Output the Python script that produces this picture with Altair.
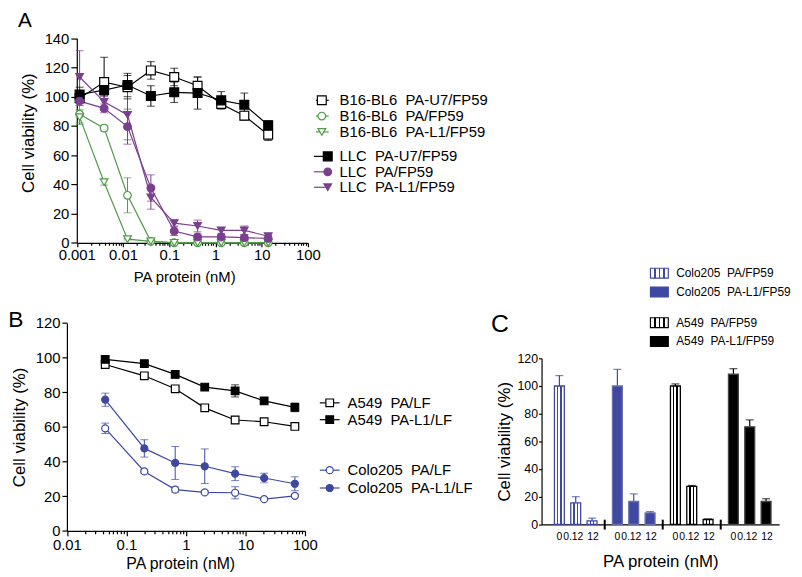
import altair as alt
import pandas as pd

W, H = 794, 566
M = 8


def cx(p):
    return p - M


def cy(p):
    return p - M


FONT = "Liberation Sans"
NARROW = "Liberation Sans Narrow, Liberation Sans"
INK = "#000000"
GREEN = "#4f9a48"
PURPLE = "#7b3f8f"
BLUE = "#3d48a2"
WHITE = "#ffffff"
SP = "\u00a0\u00a0"

# ---------------- Panel A data ----------------
A_DOSE = [0.00115, 0.0039, 0.0125, 0.04, 0.128, 0.41, 1.33, 4.2, 13.8]
A_NAMES = ["B16-BL6" + SP + "PA-U7/FP59", "B16-BL6" + SP + "PA/FP59", "B16-BL6" + SP + "PA-L1/FP59",
           "LLC" + SP + "PA-U7/FP59", "LLC" + SP + "PA/FP59", "LLC" + SP + "PA-L1/FP59"]
A_B16_U7 = [99, 110, 106.5, 118, 113.5, 107.5, 95, 87, 74]
A_B16_U7_ERR = [3, 17, 8, 6, 6, 6, 3, 3, 4]
A_B16_PA = [88, 78.5, 32.5, 1, 0, 0, 0, 0, 0]
A_B16_PA_ERR = [6, 2, 12, 1, 0, 0, 0, 0, 0]
A_B16_L1 = [86, 41.5, 2.5, 1, 0, 0, 0, 0, 0]
A_B16_L1_ERR = [5, 2, 0.5, 0.5, 0, 0, 0, 0, 0]
A_LLC_U7 = [101.5, 104.5, 108, 100.5, 103, 102.5, 97.5, 94.5, 80.5]
A_LLC_U7_ERR = [5, 4, 8, 7, 7, 11, 6, 8, 3]
A_LLC_PA = [97, 92, 79.5, 37.5, 8, 4, 4, 3.5, 3]
A_LLC_PA_ERR = [3, 3, 12, 9, 3, 2, 1.5, 2, 2]
A_LLC_L1 = [113.5, 96.5, 87.5, 31, 13.5, 11.5, 8.5, 8.5, 4.5]
A_LLC_L1_ERR = [18, 4, 17, 8, 2, 4, 2, 3, 2]
A_XTICKS = [0.001, 0.01, 0.1, 1, 10, 100]
A_YTICKS = [0, 20, 40, 60, 80, 100, 120, 140]

# ---------------- Panel B data ----------------
B_DOSE = [0.044, 0.2, 0.66, 2.07, 6.7, 20.6, 67.6]
B_NAMES = ["A549" + SP + "PA/LF", "A549" + SP + "PA-L1/LF", "Colo205" + SP + "PA/LF", "Colo205" + SP + "PA-L1/LF"]
B_A549_PA = [96, 89.5, 82, 71, 64, 63, 60.3]
B_A549_PA_ERR = [1, 1, 1, 1, 2, 1, 1]
B_A549_L1 = [99, 96.5, 90.3, 83, 80.8, 75, 71.3]
B_A549_L1_ERR = [1.5, 1.5, 2, 1, 3.5, 1.5, 2.5]
B_COLO_PA = [59.2, 34.3, 23.8, 22.2, 22, 18.3, 20.2]
B_COLO_PA_ERR = [3, 1, 1.5, 1, 3.5, 0.5, 1]
B_COLO_L1 = [75.7, 47.6, 39.2, 37.3, 33, 30.5, 27.2]
B_COLO_L1_ERR = [3.8, 5, 9.5, 10, 4, 2.8, 4]
B_XTICKS = [0.01, 0.1, 1, 10, 100]
B_YTICKS = [0, 20, 40, 60, 80, 100, 120]

# ---------------- Panel C data ----------------
C_DOSES = ["0", "0.12", "12"]
C_NAMES = ["Colo205" + SP + "PA/FP59", "Colo205" + SP + "PA-L1/FP59", "A549" + SP + "PA/FP59", "A549" + SP + "PA-L1/FP59"]
C_COLO_PA = [100, 15.5, 2.5]
C_COLO_PA_ERR = [7.5, 4.5, 2]
C_COLO_L1 = [100, 16.5, 8.2]
C_COLO_L1_ERR = [12, 5.5, 1]
C_A549_PA = [100, 27.5, 3.5]
C_A549_PA_ERR = [1.5, 0.6, 0.4]
C_A549_L1 = [108.5, 70.5, 16.5]
C_A549_L1_ERR = [4, 5, 2]
C_YTICKS = [0, 20, 40, 60, 80, 100, 120]

# ---------------- styles ----------------
A_STYLE = [(INK, WHITE, "square", 80), (GREEN, WHITE, "circle", 60), (GREEN, WHITE, "triangle-down", 60),
           (INK, INK, "square", 80), (PURPLE, PURPLE, "circle", 60), (PURPLE, PURPLE, "triangle-down", 60)]
B_STYLE = [(INK, WHITE, "square", 60), (INK, INK, "square", 60), (BLUE, WHITE, "circle", 50), (BLUE, BLUE, "circle", 50)]


def series_frame(doses, names, values, errs, styles):
    rows = []
    for name, vals, es, (col, fil, shp, sz) in zip(names, values, errs, styles):
        for d, v, e in zip(doses, vals, es):
            rows.append(dict(s=name, x=d, v=v, e=e, lo=v - e, hi=v + e, col=col, fil=fil, shp=shp, sz=sz))
    return pd.DataFrame(rows)


dfA = series_frame(A_DOSE, A_NAMES,
                   [A_B16_U7, A_B16_PA, A_B16_L1, A_LLC_U7, A_LLC_PA, A_LLC_L1],
                   [A_B16_U7_ERR, A_B16_PA_ERR, A_B16_L1_ERR, A_LLC_U7_ERR, A_LLC_PA_ERR, A_LLC_L1_ERR],
                   A_STYLE)
dfB = series_frame(B_DOSE, B_NAMES,
                   [B_A549_PA, B_A549_L1, B_COLO_PA, B_COLO_L1],
                   [B_A549_PA_ERR, B_A549_L1_ERR, B_COLO_PA_ERR, B_COLO_L1_ERR],
                   B_STYLE)


def minor_values(e0, e1):
    return [k * 10.0 ** e for e in range(e0, e1) for k in range(2, 10)]


AXIS_COMMON = dict(domainColor=INK, tickColor=INK, labelColor=INK, titleColor=INK,
                   labelFont=FONT, titleFont=FONT, titleFontWeight="normal",
                   domainWidth=1.2, tickWidth=1.2, grid=False)


def line_panel(df, xs, ys, x_axis, y_axis, minor_axis):
    err = df[df.e > 0]
    col = alt.Color("col:N", scale=None)

    def X():
        return alt.X("x:Q", scale=xs, axis=None)

    return [
        alt.Chart(df).mark_point(opacity=0).encode(
            x=alt.X("x:Q", scale=xs, axis=x_axis), y=alt.Y("v:Q", scale=ys, axis=None)),
        alt.Chart(df).mark_point(opacity=0).encode(
            x=X(), y=alt.Y("v:Q", scale=ys, axis=y_axis)),
        alt.Chart(df).mark_point(opacity=0).encode(
            x=alt.X("x:Q", scale=xs, axis=minor_axis), y=alt.Y("v:Q", scale=ys, axis=None)),
        alt.Chart(err).mark_rule(strokeWidth=1).encode(
            x=X(), y=alt.Y("lo:Q", scale=ys, axis=None), y2="hi:Q", color=col),
        alt.Chart(err).mark_tick(orient="horizontal", size=8, thickness=1).encode(
            x=X(), y=alt.Y("lo:Q", scale=ys, axis=None), color=col),
        alt.Chart(err).mark_tick(orient="horizontal", size=8, thickness=1).encode(
            x=X(), y=alt.Y("hi:Q", scale=ys, axis=None), color=col),
        alt.Chart(df).mark_line(strokeWidth=1.2).encode(
            x=X(), y=alt.Y("v:Q", scale=ys, axis=None), detail="s:N", color=col),
        alt.Chart(df).mark_point(filled=True, opacity=1, strokeWidth=1.2).encode(
            x=X(), y=alt.Y("v:Q", scale=ys, axis=None),
            shape=alt.Shape("shp:N", scale=None), fill=alt.Fill("fil:N", scale=None),
            stroke=alt.Stroke("col:N", scale=None), size=alt.Size("sz:Q", scale=None)),
    ]


# ---------------- Panel A ----------------
A_X = alt.Scale(type="log", domain=[0.001, 100], range=[cx(77.5), cx(311)], nice=False, padding=0)
A_Y = alt.Scale(domain=[0, 140], range=[cy(242.3), cy(35.7)], nice=False, zero=False, padding=0)
panelA = line_panel(
    dfA, A_X, A_Y,
    alt.Axis(orient="bottom", offset=cy(242.3) - H, values=A_XTICKS, labelExpr="'' + datum.value",
             labelFlush=False, labelOverlap=False, tickSize=4, labelPadding=1, labelFontSize=15,
             title="PA protein (nM)", titleFontSize=15, titlePadding=7, titleX=cx(186), **AXIS_COMMON),
    alt.Axis(orient="left", offset=-cx(77.5), values=A_YTICKS, tickSize=6, labelPadding=2,
             labelFontSize=15, title="Cell viability (%)", titleFontSize=17, titlePadding=7,
             titleY=cy(131), **AXIS_COMMON),
    alt.Axis(orient="bottom", offset=cy(242.3) - H, values=minor_values(-3, 2), labels=False,
             domain=False, tickSize=2.5, title=None, **AXIS_COMMON),
)

# ---------------- Panel B ----------------
B_X = alt.Scale(type="log", domain=[0.01, 100], range=[cx(67.5), cx(308)], nice=False, padding=0)
B_Y = alt.Scale(domain=[0, 120], range=[cy(533.3), cy(323.3)], nice=False, zero=False, padding=0)
panelB = line_panel(
    dfB, B_X, B_Y,
    alt.Axis(orient="bottom", offset=cy(533.3) - H, values=B_XTICKS, labelExpr="'' + datum.value",
             labelFlush=False, labelOverlap=False, tickSize=5, labelPadding=2, labelFontSize=15,
             title="PA protein (nM)", titleFontSize=16, titlePadding=3, titleX=cx(182), **AXIS_COMMON),
    alt.Axis(orient="left", offset=-cx(67.5), values=B_YTICKS, tickSize=5, labelPadding=2,
             labelFontSize=15, title="Cell viability (%)", titleFontSize=17, titlePadding=7,
             **AXIS_COMMON),
    alt.Axis(orient="bottom", offset=cy(533.3) - H, values=minor_values(-2, 2), labels=False,
             domain=False, tickSize=3, title=None, **AXIS_COMMON),
)

# ---------------- Panel C ----------------
C_STEP_GROUP = 3.55
rowsC = []
for g, (name, vals, es) in enumerate(zip(C_NAMES, [C_COLO_PA, C_COLO_L1, C_A549_PA, C_A549_L1],
                                        [C_COLO_PA_ERR, C_COLO_L1_ERR, C_A549_PA_ERR, C_A549_L1_ERR])):
    for d, (lab, v, e) in enumerate(zip(C_DOSES, vals, es)):
        rowsC.append(dict(g=g, d=d, s=name, lab=lab, pos=g * C_STEP_GROUP + d, v=v, hi=v + e))
dfC = pd.DataFrame(rowsC)
dfSep = pd.DataFrame({"pos": [g * C_STEP_GROUP + 2 + (C_STEP_GROUP - 2) / 2 for g in range(3)]})

C_X = alt.Scale(domain=[-1.09, 13.45], range=[cx(547), cx(787)], nice=False, zero=False, padding=0)
C_Y = alt.Scale(domain=[0, 120], range=[cy(526.7), cy(359)], nice=False, zero=False, padding=0)


def stripes(color, n, frac):
    stops = [{"offset": 0, "color": WHITE}]
    for k in range(1, n + 1):
        c = k / (n + 1)
        stops += [{"offset": c - frac / 2, "color": WHITE}, {"offset": c - frac / 2, "color": color},
                  {"offset": c + frac / 2, "color": color}, {"offset": c + frac / 2, "color": WHITE}]
    stops.append({"offset": 1, "color": WHITE})
    return {"gradient": "linear", "x1": 0, "x2": 1, "y1": 0, "y2": 0, "stops": stops}


C_FILL = [stripes(BLUE, 2, 0.13), BLUE, stripes(INK, 2, 0.13), INK]
C_STROKE = [BLUE, "#6a6fa8", INK, "#444444"]
C_ERRCOL = [BLUE, BLUE, INK, INK]

panelC = [
    alt.Chart(dfC).mark_point(opacity=0).encode(
        x=alt.X("pos:Q", scale=C_X, axis=alt.Axis(orient="bottom", offset=cy(526.7) - H, ticks=False,
                                                   labels=False, title="PA protein (nM)", titleFontSize=17,
                                                   titlePadding=30, **AXIS_COMMON)),
        y=alt.Y("v:Q", scale=C_Y, axis=None)),
    alt.Chart(dfC).mark_point(opacity=0).encode(
        x=alt.X("pos:Q", scale=C_X, axis=None),
        y=alt.Y("v:Q", scale=C_Y, axis=alt.Axis(orient="left", offset=-cx(547), values=C_YTICKS, tickSize=3,
                                                 labelPadding=1, labelFontSize=12.5, title="Cell viability (%)",
                                                 titleFontSize=17, titlePadding=4, **AXIS_COMMON))),
]
for g in range(4):
    sub = dfC[dfC.g == g]
    panelC.append(alt.Chart(sub).mark_rule(strokeWidth=1.2, color=C_ERRCOL[g]).encode(
        x=alt.X("pos:Q", scale=C_X, axis=None), y=alt.Y("v:Q", scale=C_Y, axis=None), y2="hi:Q"))
    panelC.append(alt.Chart(sub).mark_tick(orient="horizontal", size=8, thickness=1.2, color=C_ERRCOL[g]).encode(
        x=alt.X("pos:Q", scale=C_X, axis=None), y=alt.Y("hi:Q", scale=C_Y, axis=None)))
    panelC.append(alt.Chart(sub).mark_bar(size=10, fill=C_FILL[g], stroke=C_STROKE[g], strokeWidth=1.3).encode(
        x=alt.X("pos:Q", scale=C_X, axis=None), y=alt.Y("v:Q", scale=C_Y, axis=None)))
for d, dx in zip(range(3), [0, -2.5, 1]):
    panelC.append(alt.Chart(dfC[dfC.d == d]).mark_text(fontSize=10.5, font=NARROW, color=INK, baseline="middle", dx=dx).encode(
        x=alt.X("pos:Q", scale=C_X, axis=None), y=alt.value(cy(539.5)), text="lab:N"))
panelC.append(alt.Chart(dfSep).mark_rule(strokeWidth=2, color=INK).encode(
    x=alt.X("pos:Q", scale=C_X, axis=None), y=alt.value(cy(522)), y2=alt.value(cy(532))))


# ---------------- legends ----------------
def line_legend(names, styles, y0, step, lx0, lx1, mx, tx, fs):
    ld = pd.DataFrame({"t": names, "ly": [cy(y0 + i * step) for i in range(len(names))],
                       "col": [s[0] for s in styles], "fil": [s[1] for s in styles],
                       "shp": [s[2] for s in styles], "sz": [s[3] for s in styles]})
    Y = alt.Y("ly:Q", scale=None, axis=None)
    r = alt.Chart(ld).mark_rule(strokeWidth=1.2).encode(
        x=alt.value(cx(lx0)), x2=alt.value(cx(lx1)), y=Y, color=alt.Color("col:N", scale=None))
    p = alt.Chart(ld).mark_point(filled=True, opacity=1, strokeWidth=1.2).encode(
        x=alt.value(cx(mx)), y=Y, shape=alt.Shape("shp:N", scale=None), fill=alt.Fill("fil:N", scale=None),
        stroke=alt.Stroke("col:N", scale=None), size=alt.Size("sz:Q", scale=None))
    t = alt.Chart(ld).mark_text(align="left", baseline="middle", fontSize=fs, font=FONT, color=INK).encode(
        x=alt.value(cx(tx)), y=Y, text="t:N")
    return [r, p, t]


legends = []
legends += line_legend(A_NAMES[:3], A_STYLE[:3], 98.3, 16, 319, 332, 325, 343, 15)
legends += line_legend(A_NAMES[3:], A_STYLE[3:], 155, 15.6, 317, 331, 331, 343, 15)
legends += line_legend(B_NAMES[:2], B_STYLE[:2], 404, 17, 323, 343, 333, 351, 15)
legends += line_legend(B_NAMES[2:], B_STYLE[2:], 472, 18, 323, 343, 333, 351, 15)

C_LEG_FILL = [stripes(BLUE, 3, 0.08), BLUE, stripes(INK, 3, 0.08), INK]
C_LEG_Y = [273, 292, 323, 342]
for i, name in enumerate(C_NAMES):
    one = pd.DataFrame({"t": [name]})
    legends.append(alt.Chart(one).mark_rect(fill=C_LEG_FILL[i], stroke=C_ERRCOL[i], strokeWidth=1.2).encode(
        x=alt.value(cx(657)), x2=alt.value(cx(675)), y=alt.value(cy(C_LEG_Y[i] - 5)), y2=alt.value(cy(C_LEG_Y[i] + 5))))
    legends.append(alt.Chart(one).mark_text(align="left", baseline="middle", fontSize=12, font=FONT, color=INK).encode(
        x=alt.value(cx(683)), y=alt.value(cy(C_LEG_Y[i])), text="t:N"))

# ---------------- panel letters ----------------
letters = []
for lab, lx, ly, fs in [("A", 25, 24, 21), ("B", 16, 327, 23), ("C", 505, 332, 25)]:
    letters.append(alt.Chart(pd.DataFrame({"t": [lab]})).mark_text(
        fontSize=fs, font=FONT, color=INK, baseline="alphabetic", align="center").encode(
        x=alt.value(cx(lx)), y=alt.value(cy(ly)), text="t:N"))

chart = alt.layer(*panelA, *panelB, *panelC, *legends, *letters).resolve_scale(
    x="independent", y="independent").resolve_axis(x="independent", y="independent").properties(
    width=W, height=H, autosize=alt.AutoSizeParams(type="none"), padding=0
).configure_view(stroke=None)

chart.save("out.html", embed_options={"renderer": "svg", "actions": False})
